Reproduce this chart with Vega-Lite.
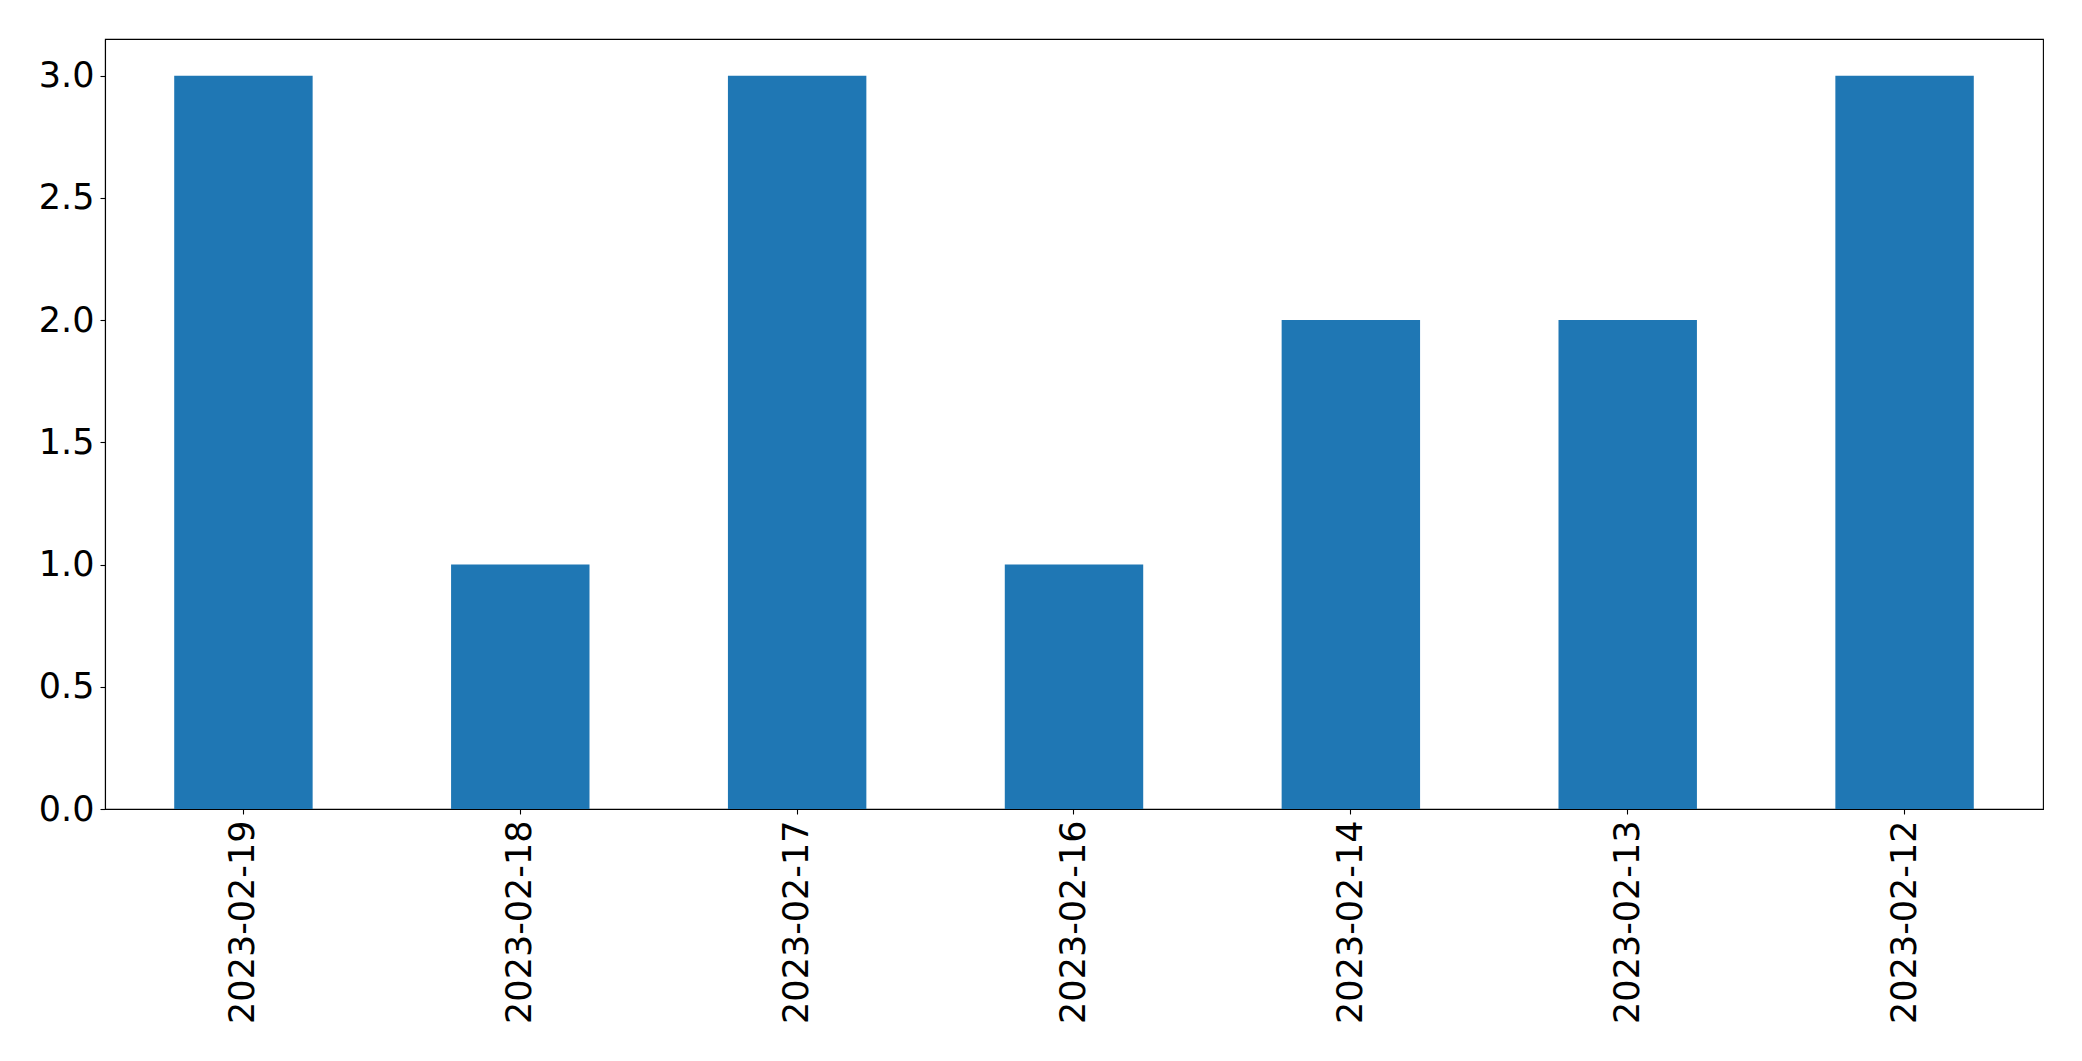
{
  "$schema": "https://vega.github.io/schema/vega-lite/v6.json",
  "autosize": "none",
  "padding": {"left": 105, "top": 39, "right": 39, "bottom": 252},
  "width": 1938,
  "height": 770,
  "background": "white",
  "data": {
    "values": [
      {"date": "2023-02-19", "count": 3},
      {"date": "2023-02-18", "count": 1},
      {"date": "2023-02-17", "count": 3},
      {"date": "2023-02-16", "count": 1},
      {"date": "2023-02-14", "count": 2},
      {"date": "2023-02-13", "count": 2},
      {"date": "2023-02-12", "count": 3}
    ]
  },
  "mark": {"type": "bar", "color": "#1f77b4"},
  "encoding": {
    "x": {
      "field": "date",
      "type": "nominal",
      "sort": null,
      "scale": {"paddingInner": 0.5, "paddingOuter": 0.25},
      "axis": {
        "title": null,
        "labelAngle": 270,
        "labelAlign": "right",
        "labelBaseline": "middle",
        "labelPadding": 6,
        "labelLimit": 0,
        "labelOverlap": false,
        "labelFontSize": 35,
        "labelFont": "DejaVu Sans",
        "labelColor": "black",
        "tickColor": "black",
        "tickSize": 5,
        "tickWidth": 1.1,
        "domainColor": "black",
        "domainWidth": 1.1,
        "grid": false
      }
    },
    "y": {
      "field": "count",
      "type": "quantitative",
      "scale": {"domain": [0, 3.15], "nice": false, "zero": true},
      "axis": {
        "title": null,
        "values": [0, 0.5, 1, 1.5, 2, 2.5, 3],
        "format": ".1f",
        "labelPadding": 6,
        "labelFontSize": 35,
        "labelFont": "DejaVu Sans",
        "labelColor": "black",
        "tickColor": "black",
        "tickSize": 5,
        "tickWidth": 1.1,
        "domainColor": "black",
        "domainWidth": 1.1,
        "grid": false
      }
    }
  },
  "config": {
    "view": {"stroke": "black", "strokeWidth": 1.1}
  }
}
